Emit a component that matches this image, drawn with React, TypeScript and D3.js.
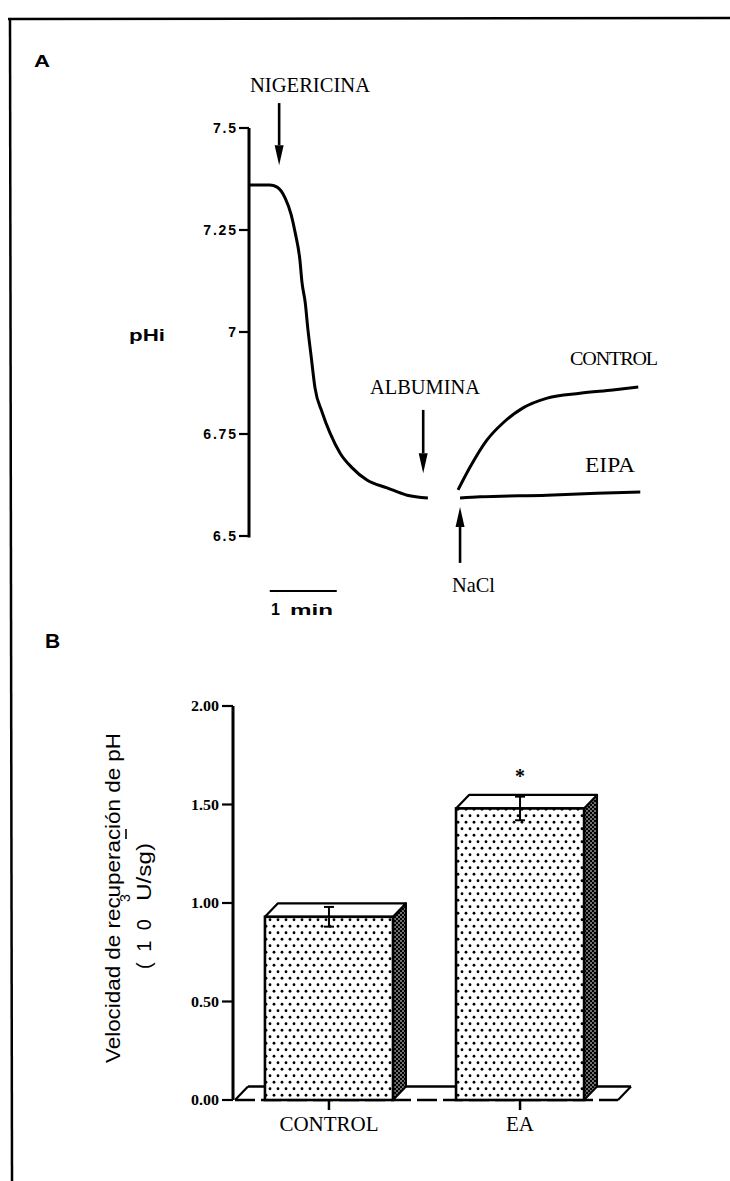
import React from 'react';
import * as d3 from 'd3';

// ---------- Panel A data (time in min, pHi) ----------
const descentT = [0, 0.31, 0.42, 0.54, 0.63, 0.69, 0.76, 0.79, 0.84, 0.88, 0.925, 0.985, 1.09, 1.21, 1.36, 1.54, 1.76, 2.06, 2.36, 2.67];
const descentPH = [7.36, 7.36, 7.355, 7.328, 7.287, 7.243, 7.176, 7.123, 7.071, 7.005, 6.944, 6.863, 6.804, 6.752, 6.703, 6.667, 6.637, 6.618, 6.6, 6.593];
const controlT = [3.12, 3.3, 3.55, 3.79, 4.09, 4.45, 4.94, 5.43, 5.81];
const controlPH = [6.613, 6.669, 6.735, 6.777, 6.814, 6.838, 6.85, 6.858, 6.865];
const eipaT = [3.15, 3.45, 4.45, 5.19, 5.84];
const eipaPH = [6.593, 6.596, 6.6, 6.605, 6.608];
const phTicks = [6.5, 6.75, 7, 7.25, 7.5];
const phTickLabels = ['6.5', '6.75', '7', '7.25', '7.5'];
// arrows: time, start pH, tip pH
const arrowLabels = ['NIGERICINA', 'ALBUMINA', 'NaCl'];
const arrowT = [0.45, 2.6, 3.15];
const arrowFrom = [7.561, 6.809, 6.434];
const arrowTo = [7.409, 6.654, 6.571];
const scaleBarStart = 0.31;
const scaleBarLen = 1;

// ---------- Panel B data ----------
const groups = ['CONTROL', 'EA'];
const means = [0.93, 1.48];
const sems = [0.05, 0.06];
const rateTicks = [0, 0.5, 1, 1.5, 2];
const rateTickLabels = ['0.00', '0.50', '1.00', '1.50', '2.00'];

const zip = (a: number[], b: number[]) => a.map((v, i) => [v, b[i]] as [number, number]);

export default function App() {
  const xA = d3.scaleLinear().domain([0, 1]).range([249, 316]);
  const yA = d3.scaleLinear().domain([6.5, 7.5]).range([536, 128]);
  const line = d3.line<[number, number]>().x(d => xA(d[0])).y(d => yA(d[1])).curve(d3.curveMonotoneX);

  const yB = d3.scaleLinear().domain([0, 2]).range([1100, 706]);
  const xB = d3.scaleBand<string>().domain(groups).range([234, 615]).paddingInner(0.33).paddingOuter(0.162);
  const dx = 13, dz = 13.5;
  const y0 = yB(0);
  const axisXB = 233;

  const serif = '"Liberation Serif", "Times New Roman", serif';
  const sans = '"Liberation Sans", Arial, sans-serif';

  const arrow = (x: number, yFrom: number, yTip: number, key: string) => {
    const dir = yTip > yFrom ? 1 : -1;
    const headLen = 20, hw = 4.5;
    const base = yTip - dir * headLen;
    return (
      <g key={key}>
        <line x1={x} y1={yFrom} x2={x} y2={base} stroke="#000" strokeWidth={2.6} />
        <path d={`M${x - hw},${base} L${x + hw},${base} L${x},${yTip} Z`} fill="#000" />
      </g>
    );
  };

  const labelPos = [
    { x: 250, y: 92, len: 120, size: 20 },
    { x: 370, y: 394, len: 110, size: 20 },
    { x: 452, y: 592, len: 43, size: 21 },
  ];

  return (
    <svg width={730} height={1181} style={{ position: 'absolute', left: 0, top: 0, background: '#fff' }}>
      <defs>
        <pattern id="dots" width={8} height={13} patternUnits="userSpaceOnUse">
          <rect width={8} height={13} fill="#fff" />
          <circle cx={2} cy={3.25} r={1.4} fill="#000" />
          <circle cx={6} cy={9.75} r={1.4} fill="#000" />
        </pattern>
        <pattern id="side" width={4} height={4} patternUnits="userSpaceOnUse">
          <rect width={4} height={4} fill="#000" />
          <circle cx={1} cy={1} r={0.8} fill="#fff" />
          <circle cx={3} cy={3} r={0.8} fill="#fff" />
        </pattern>
      </defs>
      <rect width={730} height={1181} fill="#fff" />

      {/* frame */}
      <line x1={8} y1={19} x2={730} y2={18} stroke="#000" strokeWidth={2.5} />
      <line x1={10} y1={18} x2={12} y2={1181} stroke="#000" strokeWidth={2.5} />

      {/* ---------- Panel A ---------- */}
      <text x={34} y={67} fontFamily={sans} fontWeight="bold" fontSize={17} textLength={16} lengthAdjust="spacingAndGlyphs">A</text>
      <text x={129} y={341} fontFamily={sans} fontWeight="bold" fontSize={17} textLength={36} lengthAdjust="spacingAndGlyphs">pHi</text>

      <line x1={xA(0)} y1={yA(7.5)} x2={xA(0)} y2={yA(6.5) + 1.5} stroke="#000" strokeWidth={3} />
      {phTicks.map((t, i) => (
        <g key={'pt' + i}>
          <line x1={xA(0) - 10} x2={xA(0)} y1={yA(t)} y2={yA(t)} stroke="#000" strokeWidth={2.2} />
          <text x={xA(0) - 13} y={yA(t) + 5} textAnchor="end" fontFamily={sans} fontWeight="bold" fontSize={14} letterSpacing="1.8px" dx={1.8}>{phTickLabels[i]}</text>
        </g>
      ))}

      <path d={line(zip(descentT, descentPH)) || ''} fill="none" stroke="#000" strokeWidth={3} strokeLinejoin="round" />
      <path d={line(zip(controlT, controlPH)) || ''} fill="none" stroke="#000" strokeWidth={3} strokeLinejoin="round" />
      <path d={line(zip(eipaT, eipaPH)) || ''} fill="none" stroke="#000" strokeWidth={3} strokeLinejoin="round" />

      {arrowT.map((t, i) => arrow(xA(t), yA(arrowFrom[i]), yA(arrowTo[i]), 'ar' + i))}
      {arrowLabels.map((l, i) => (
        <text key={'al' + i} x={labelPos[i].x} y={labelPos[i].y} fontFamily={serif} fontSize={labelPos[i].size} textLength={labelPos[i].len} lengthAdjust="spacingAndGlyphs">{l}</text>
      ))}
      <text x={570} y={365} fontFamily={serif} fontSize={18} textLength={87} lengthAdjust="spacingAndGlyphs" letterSpacing="-1px">CONTROL</text>
      <text x={585} y={472} fontFamily={serif} fontSize={21} textLength={50} lengthAdjust="spacingAndGlyphs">EIPA</text>

      <line x1={xA(scaleBarStart)} x2={xA(scaleBarStart + scaleBarLen)} y1={591} y2={591} stroke="#000" strokeWidth={2} />
      <text x={271} y={615} fontFamily={sans} fontWeight="bold" fontSize={16}>1</text>
      <text x={290} y={615} fontFamily={sans} fontWeight="bold" fontSize={15} textLength={43} lengthAdjust="spacingAndGlyphs">min</text>

      {/* ---------- Panel B ---------- */}
      <text x={45} y={648} fontFamily={sans} fontWeight="bold" fontSize={21}>B</text>

      {/* y label */}
      <text transform={`translate(120,898) rotate(-90)`} textAnchor="middle" fontFamily={sans} fontSize={20} textLength={330} lengthAdjust="spacingAndGlyphs">Velocidad de recuperación de pH</text>
      <text transform={`translate(151,944) rotate(-90)`} textAnchor="middle" fontFamily={sans} fontSize={20} textLength={50} lengthAdjust="spacing">(10</text>
      <text transform={`translate(151,872) rotate(-90)`} textAnchor="middle" fontFamily={sans} fontSize={20} textLength={58} lengthAdjust="spacingAndGlyphs">U/sg)</text>
      <text transform={`translate(130,898) rotate(-90)`} textAnchor="middle" fontFamily={sans} fontSize={14}>3</text>
      <line x1={126} x2={126} y1={829} y2={839} stroke="#000" strokeWidth={1.6} />

      {/* floor */}
      <line x1={axisXB + 2} y1={y0} x2={axisXB + 2 + dx} y2={y0 - dz} stroke="#000" strokeWidth={2.2} />
      <line x1={axisXB + 2 + dx} y1={y0 - dz} x2={618 + dx} y2={y0 - dz} stroke="#000" strokeWidth={2.5} />
      <line x1={618} y1={y0} x2={618 + dx} y2={y0 - dz} stroke="#000" strokeWidth={2.2} />
      <line x1={axisXB + 2} y1={y0} x2={618} y2={y0} stroke="#000" strokeWidth={2.5} strokeDasharray="20 6" />

      {groups.map((g, i) => {
        const x0 = xB(g) as number;
        const bw = xB.bandwidth();
        const yt = yB(means[i]);
        return (
          <g key={'bar' + i}>
            <path d={`M${x0 + bw},${yt} L${x0 + bw + dx},${yt - dz} L${x0 + bw + dx},${y0 - dz} L${x0 + bw},${y0} Z`} fill="url(#side)" stroke="#000" strokeWidth={2} strokeLinejoin="round" />
            <path d={`M${x0},${yt} L${x0 + dx},${yt - dz} L${x0 + bw + dx},${yt - dz} L${x0 + bw},${yt} Z`} fill="#fff" stroke="#000" strokeWidth={2.2} strokeLinejoin="round" />
            <rect x={x0} y={yt} width={bw} height={y0 - yt} fill="url(#dots)" stroke="#000" strokeWidth={2.6} />
          </g>
        );
      })}

      {groups.map((g, i) => {
        const cx = (xB(g) as number) + xB.bandwidth() / 2;
        const hi = yB(means[i] + sems[i]);
        const lo = yB(means[i] - sems[i]);
        return (
          <g key={'eb' + i}>
            <line x1={cx} x2={cx} y1={hi} y2={lo} stroke="#000" strokeWidth={2} />
            <line x1={cx - 5} x2={cx + 5} y1={hi} y2={hi} stroke="#000" strokeWidth={2} />
            <line x1={cx - 5} x2={cx + 5} y1={lo} y2={lo} stroke="#000" strokeWidth={2} />
            <line x1={cx} x2={cx} y1={y0} y2={y0 + 10} stroke="#000" strokeWidth={2.5} />
            <text x={cx} y={1131} textAnchor="middle" fontFamily={serif} fontSize={21}>{g}</text>
          </g>
        );
      })}
      <text x={(xB('EA') as number) + xB.bandwidth() / 2} y={yB(means[1] + sems[1]) - 14} textAnchor="middle" fontFamily={serif} fontWeight="bold" fontSize={20}>*</text>

      <line x1={axisXB} x2={axisXB} y1={yB(2)} y2={y0} stroke="#000" strokeWidth={3} />
      {rateTicks.map((t, i) => (
        <g key={'rt' + i}>
          <line x1={axisXB - 11} x2={axisXB} y1={yB(t)} y2={yB(t)} stroke="#000" strokeWidth={2.2} />
          <text x={219} y={yB(t) + 5} textAnchor="end" fontFamily={serif} fontWeight="bold" fontSize={14} textLength={28} lengthAdjust="spacingAndGlyphs">{rateTickLabels[i]}</text>
        </g>
      ))}
    </svg>
  );
}
